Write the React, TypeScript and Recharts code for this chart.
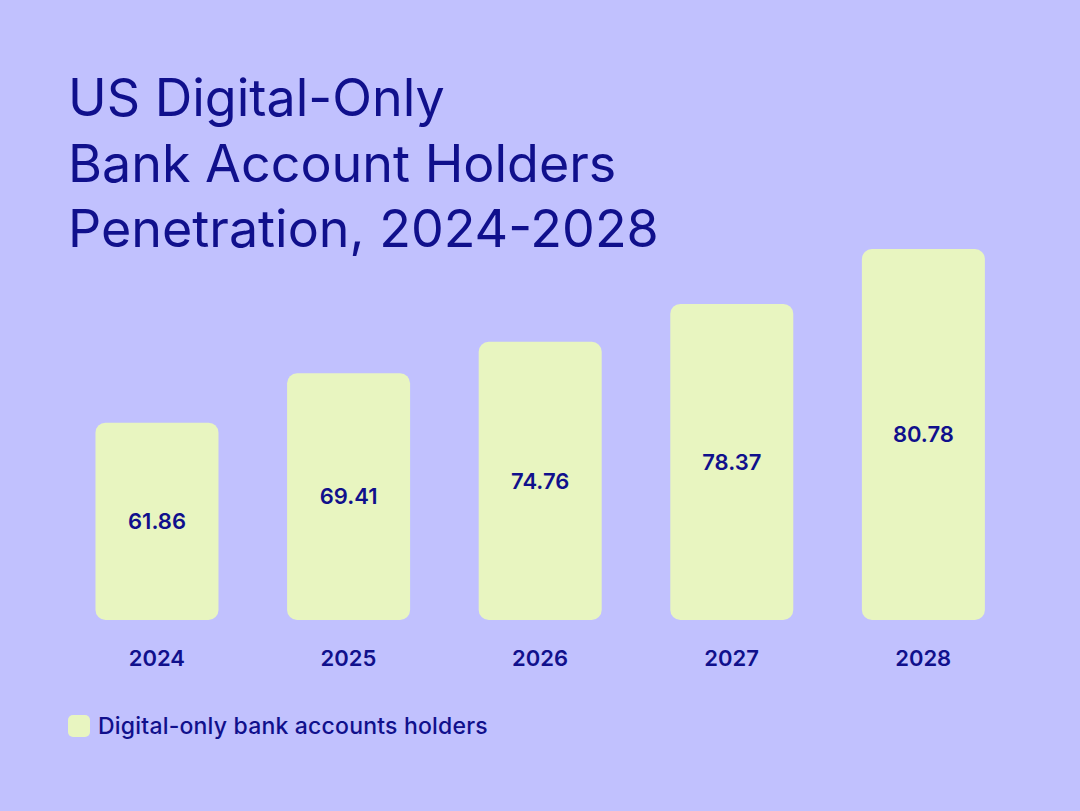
import { BarChart, Bar, XAxis, YAxis, LabelList } from 'recharts';

const years = ['2024', '2025', '2026', '2027', '2028'];
// penetration values printed on the bars
const penetration = [61.86, 69.41, 74.76, 78.37, 80.78];
const barLevels = [53.2, 66.5, 75.0, 85.2, 100];
const seriesName = 'Digital-only bank accounts holders';

const NAVY = '#10108c';
const BG = '#c1c1fe';
const BAR = '#e8f5c0';
const FONT = 'Inter, "Noto Sans", sans-serif';

const data = years.map((year, i) => ({
  year,
  level: barLevels[i],
  value: penetration[i].toFixed(2),
}));

export default function App() {
  return (
    <div
      style={{
        position: 'absolute',
        left: 0,
        top: 0,
        width: 1080,
        height: 811,
        background: BG,
        overflow: 'hidden',
      }}
    >
      <div
        style={{
          position: 'absolute',
          left: 68,
          top: 65,
          fontFamily: FONT,
          fontSize: 52,
          lineHeight: '65.5px',
          fontWeight: 400,
          color: NAVY,
        }}
      >
        US Digital-Only
        <br />
        Bank Account Holders
        <br />
        Penetration, 2024-2028
      </div>
      <BarChart
        width={1080}
        height={811}
        data={data}
        margin={{ top: 249, right: 61, bottom: 151, left: 61 }}
        barCategoryGap="18%"
      >
        <XAxis
          dataKey="year"
          axisLine={false}
          tickLine={false}
          tickSize={0}
          tickMargin={30}
          height={40}
          interval={0}
          tick={{ fill: NAVY, fontSize: 22, fontWeight: 600, fontFamily: FONT }}
        />
        <YAxis hide domain={[0, 100]} />
        <Bar
          dataKey="level"
          name={seriesName}
          fill={BAR}
          radius={[10, 10, 10, 10]}
          isAnimationActive={false}
        >
          <LabelList
            dataKey="value"
            position="center"
            fill={NAVY}
            fontSize={22}
            fontWeight={600}
            fontFamily={FONT}
          />
        </Bar>
      </BarChart>
      {/* legend */}
      <div
        style={{
          position: 'absolute',
          left: 68,
          top: 712,
          display: 'flex',
          alignItems: 'center',
          fontFamily: FONT,
        }}
      >
        <span
          style={{
            width: 22,
            height: 22,
            borderRadius: 5,
            background: BAR,
            display: 'inline-block',
            marginRight: 8,
          }}
        />
        <span style={{ color: NAVY, fontSize: 23, fontWeight: 500, letterSpacing: 0.2 }}>
          {seriesName}
        </span>
      </div>
    </div>
  );
}
